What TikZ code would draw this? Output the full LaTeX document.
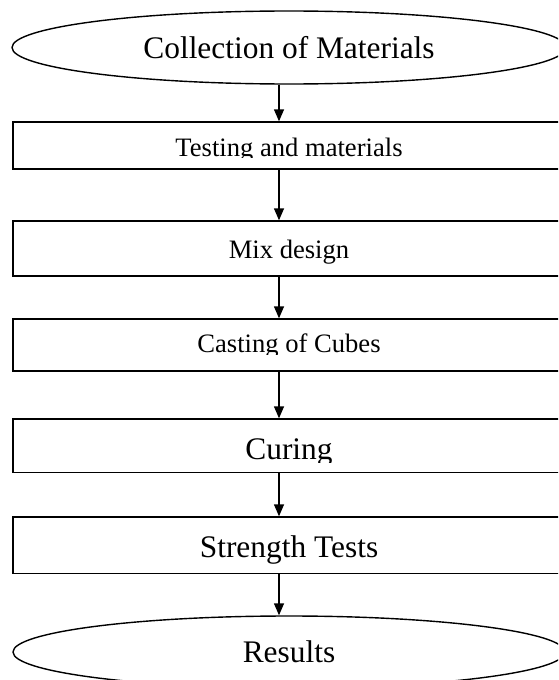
\documentclass[tikz,border=0pt]{standalone}
\usepackage{fontspec}
\setmainfont{Liberation Serif}
\usetikzlibrary{shapes.geometric,arrows.meta,positioning}

\tikzset{
  stepbox/.style = {draw, line width = 1.4pt, rectangle, inner sep = 0pt, minimum width = 552pt},
  endcap/.style = {draw, line width = 1.4pt, ellipse, inner sep = 0pt},
  flow/.style = {line width = 1.4pt, -{Triangle[length = 12pt, width = 10pt]}},
  big/.style = {font = \fontsize{31.4}{36}\selectfont},
  small/.style = {font = \fontsize{26.6}{30}\selectfont},
}

\begin{document}
\begin{tikzpicture}[x = 1pt, y = -1pt]
\useasboundingbox (0,0) rectangle (558,680);
\clip (0,0) rectangle (558,680);

% start and end
\node[endcap, big, minimum width = 554pt, minimum height = 73pt] (collect) at (289,47.5) {Collection of Materials};
\node[endcap, big, minimum width = 552pt, minimum height = 72pt] (results) at (289,652) {Results};

% the five steps
\node[stepbox, minimum height = 47pt] (testing) at (289,145.5) {};
\node[stepbox, minimum height = 55pt] (mix) at (289,248.5) {};
\node[stepbox, minimum height = 52pt] (casting) at (289,345) {};
\node[stepbox, minimum height = 53.5pt] (curing) at (289,445.75) {};
\node[stepbox, minimum height = 56.5pt] (strength) at (289,545.25) {};

\begin{scope}
\clip (13,122) rectangle (565,157.5);
\node[small, anchor = base, inner sep = 0pt] (testingtxt) at (289,156) {Testing and materials};
\end{scope}
\node[small, anchor = base, inner sep = 0pt] (mixtxt) at (289,258) {Mix design};
\begin{scope}
\clip (13,319) rectangle (565,354);
\node[small, anchor = base, inner sep = 0pt] (castingtxt) at (289,352) {Casting of Cubes};
\end{scope}
\begin{scope}
\clip (13,419) rectangle (565,462);
\node[big, anchor = base, inner sep = 0pt] (curingtxt) at (289,459) {Curing};
\end{scope}
\node[big, anchor = base, inner sep = 0pt] (strengthtxt) at (289,557) {Strength Tests};

% arrows
\coordinate (ax) at (279,0);
\draw[flow] (collect.south -| ax) -- (testing.north -| ax);
\draw[flow] (testing.south -| ax) -- (mix.north -| ax);
\draw[flow] (mix.south -| ax) -- (casting.north -| ax);
\draw[flow] (casting.south -| ax) -- (curing.north -| ax);
\draw[flow] (curing.south -| ax) -- (strength.north -| ax);
\draw[flow] (strength.south -| ax) -- (results.north -| ax);
\end{tikzpicture}
\end{document}
